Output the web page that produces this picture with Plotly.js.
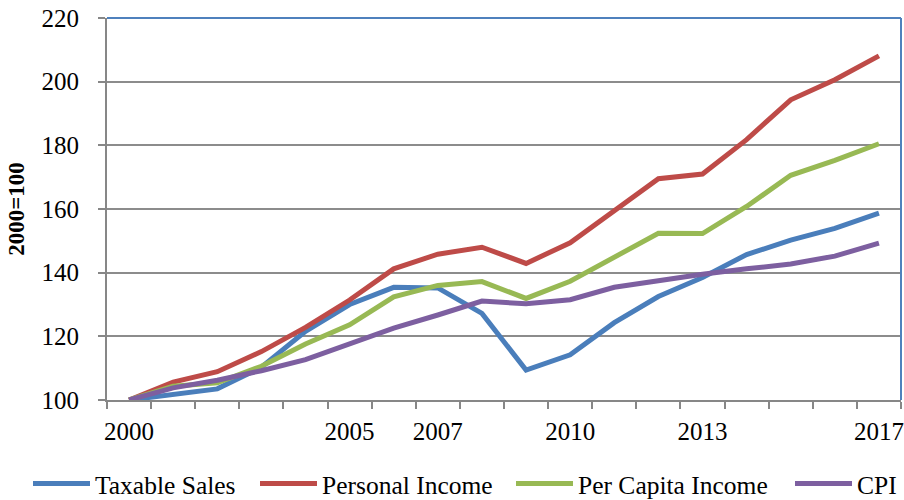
<!DOCTYPE html>
<html>
<head>
<meta charset="utf-8">
<script src="https://cdn.plot.ly/plotly-3.0.1.min.js"></script>
<style>html,body{margin:0;padding:0;background:#fff;}#chart{width:904px;height:500px;}</style>
</head>
<body>
<div id="chart"></div>
<script>
var years = [2000,2001,2002,2003,2004,2005,2006,2007,2008,2009,2010,2011,2012,2013,2014,2015,2016,2017];
var taxableSales = [100,101.8,103.5,110.3,121.6,130,135.4,135.2,127.2,109.4,114.2,124.3,132.5,138.5,145.7,150.2,153.9,158.7];
var personalIncome = [100,105.6,108.9,115.2,122.8,131.4,141.2,145.8,148,142.9,149.4,159.6,169.5,171,181.8,194.3,200.6,208.1];
var perCapitaIncome = [100,104.3,105.4,110.6,117.6,123.6,132.4,136,137.2,131.9,137.3,144.8,152.4,152.3,160.8,170.6,175.3,180.5];
var cpi = [100,103.8,106.2,109.2,112.7,117.7,122.6,126.7,131.1,130.2,131.5,135.4,137.5,139.5,141.2,142.7,145.2,149.3];
var seriesNames = ['Taxable Sales','Personal Income','Per Capita Income','CPI'];
var seriesColors = ['#4A7EBB','#BE4B48','#98B954','#7D5FA0'];
var xTickVals = [2000,2005,2007,2010,2013,2017];

var fontFam = 'Liberation Serif, Times New Roman, serif';
var allSeries = [taxableSales, personalIncome, perCapitaIncome, cpi];
var legendIds = ['legend','legend2','legend3','legend4'];
var legendX = [28, 255, 511, 790];
var traces = allSeries.map(function(vals, i){
  return {x: years, y: vals, type:'scatter', mode:'lines', name: seriesNames[i],
          legend: legendIds[i], line:{color: seriesColors[i], width:5}};
});
var layout = {
  width:904, height:500,
  margin:{l:107, r:3, t:18, b:100},
  paper_bgcolor:'#fff', plot_bgcolor:'#fff',
  font:{family: fontFam, size:25, color:'#000'},
  showlegend:true,
  xaxis:{type:'linear', range:[1999.5,2017.5], tickmode:'array', tickvals:xTickVals,
         ticks:'', showgrid:false, zeroline:false, showline:true, linecolor:'#878787', linewidth:2,
         tickfont:{family: fontFam, size:25, color:'#000'}, ticklabelstandoff:8,
         minor:{tickmode:'linear', tick0:1999.5, dtick:1, ticks:'outside', ticklen:7, tickwidth:2, tickcolor:'#878787', showgrid:false}},
  yaxis:{range:[100,220], tickmode:'linear', tick0:100, dtick:20, ticks:'outside', ticklen:7, tickwidth:2, tickcolor:'#878787',
         showgrid:true, gridcolor:'#8C8C8C', gridwidth:2, zeroline:false, showline:true, linecolor:'#878787', linewidth:2,
         tickfont:{family: fontFam, size:25, color:'#000'}, ticklabelstandoff:14,
         title:{text:'2000=100', font:{family: fontFam, size:23, color:'#000', weight:'bold'}, standoff:10}},
  shapes:[
    {type:'line', xref:'paper', yref:'paper', x0:0, x1:1, y0:1, y1:1, line:{color:'#4F81BD', width:2}},
    {type:'line', xref:'paper', yref:'paper', x0:1, x1:1, y0:0, y1:1, line:{color:'#4F81BD', width:2}}
  ]
};
legendIds.forEach(function(id, i){
  layout[id] = {orientation:'h', xref:'container', yref:'container', x: legendX[i]/904, y:0.032,
                xanchor:'left', yanchor:'middle', bgcolor:'rgba(0,0,0,0)',
                font:{family: fontFam, size:25.5, color:'#000'}, itemwidth:57, itemclick:false};
});
Plotly.newPlot('chart', traces, layout, {displayModeBar:false, staticPlot:true});
</script>
</body>
</html>
